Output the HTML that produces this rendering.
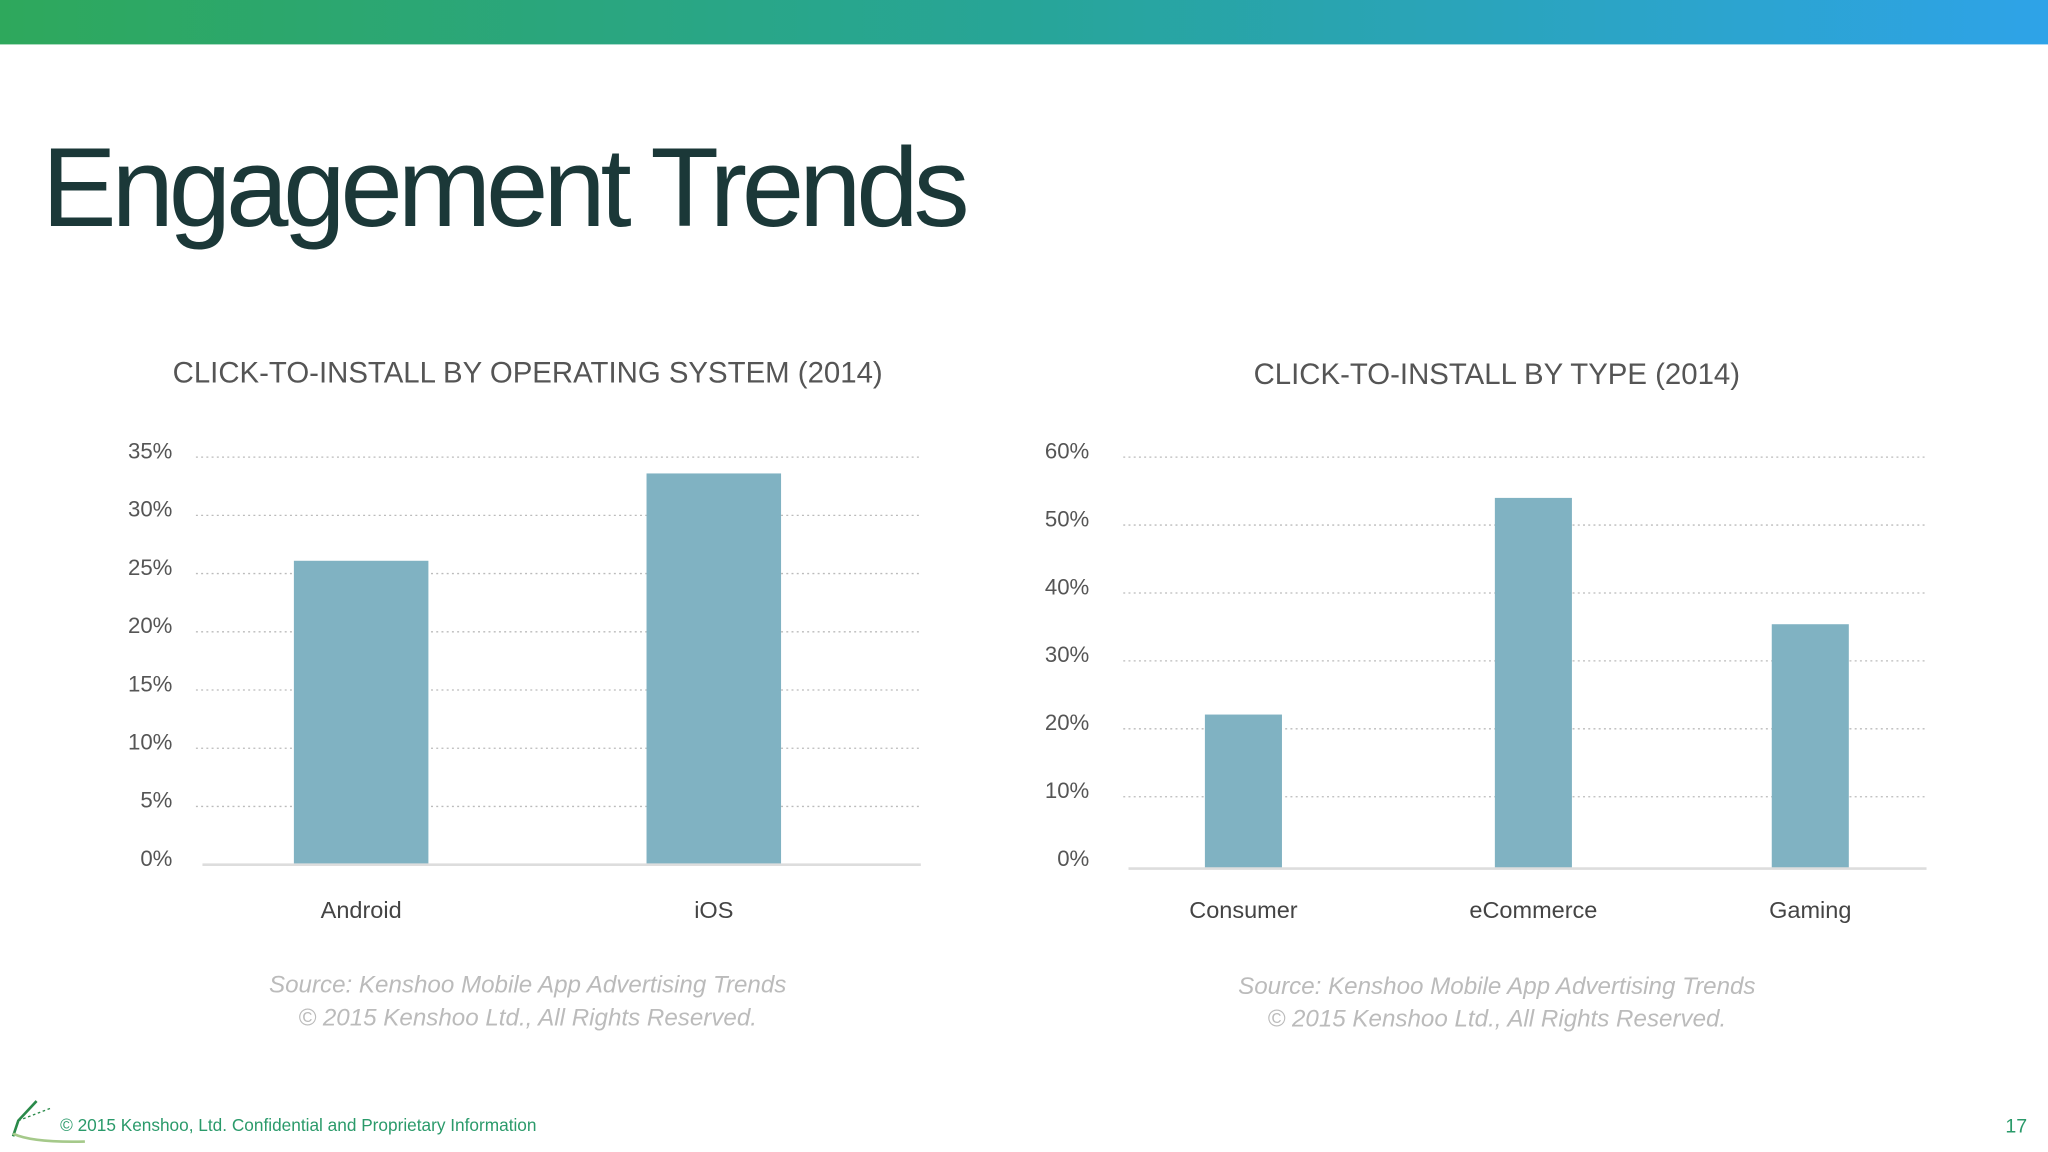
<!DOCTYPE html>
<html><head><meta charset="utf-8"><style>
html,body{margin:0;padding:0;background:#fff;}
svg{display:block;}
text{font-family:"Liberation Sans",sans-serif;}
</style></head><body>
<svg width="2048" height="1152" viewBox="0 0 1568 882" xmlns="http://www.w3.org/2000/svg">
<defs><linearGradient id="tb" x1="0" x2="1"><stop offset="0" stop-color="#2ea85c"/><stop offset="0.5" stop-color="#27a598"/><stop offset="1" stop-color="#2ea3e8"/></linearGradient></defs>
<rect x="0" y="0" width="1568" height="34" fill="url(#tb)"/>
<text x="32" y="173" font-size="86" fill="#1b3838" letter-spacing="-4">Engagement Trends</text>
<text x="404" y="293" font-size="22.5" fill="#555" text-anchor="middle">CLICK-TO-INSTALL BY OPERATING SYSTEM (2014)</text>
<text x="1146" y="294" font-size="22.5" fill="#555" text-anchor="middle">CLICK-TO-INSTALL BY TYPE (2014)</text>
<g id="left"></g>
<g id="right"></g>
<g fill="#bbb" font-style="italic" font-size="18.5" text-anchor="middle">
<text x="404" y="760">Source: Kenshoo Mobile App Advertising Trends</text>
<text x="404" y="785">© 2015 Kenshoo Ltd., All Rights Reserved.</text>
<text x="1146" y="761">Source: Kenshoo Mobile App Advertising Trends</text>
<text x="1146" y="786">© 2015 Kenshoo Ltd., All Rights Reserved.</text>
</g>
<g stroke="#2a8a4a" fill="none">
<path d="M28 843 L14 858 L10 870" stroke-width="2"/>
<path d="M14 858 L40 848" stroke-width="1" stroke-dasharray="2 2"/>
<path d="M10 868 Q25 875 65 874" stroke="#a5c98a" stroke-width="2"/>
</g>
<text x="46" y="866" font-size="13.2" fill="#2a9a6a">©  2015 Kenshoo, Ltd. Confidential and Proprietary Information</text>
<text x="1552" y="867" font-size="15" fill="#2a9a6a" text-anchor="end">17</text>
</svg>
<script>
const leftCats=["Android","iOS"];
const leftVals=[26.1,33.6];
const leftTicks=[0,5,10,15,20,25,30,35];
const rightCats=["Consumer","eCommerce","Gaming"];
const rightVals=[22.1,54,35.4];
const rightTicks=[0,10,20,30,40,50,60];
const NS="http://www.w3.org/2000/svg";
function mk(p,t,a){const e=document.createElementNS(NS,t);for(const k in a)e.setAttribute(k,a[k]);p.appendChild(e);return e;}
function chart(g,cats,vals,ticks,o){
  const max=ticks[ticks.length-1];
  const y=v=>o.y0-(v/max)*(o.y0-o.y1);
  ticks.forEach(t=>{
    if(t>0){const l=mk(g,'line',{x1:o.gx0,x2:o.gx1,y1:y(t),y2:y(t),stroke:'#bbb','stroke-width':1,'stroke-dasharray':'1.5 2.5'});
    
    }
    const tx=mk(g,'text',{x:o.lx,y:y(t)+1,'font-size':17,fill:'#555','text-anchor':'end'});
    tx.textContent=t+'%';
    
    
  });
  cats.forEach((c,i)=>{
    const cx=o.cx[i];
    const r=mk(g,'rect',{x:cx-o.bw/2,y:y(vals[i]),width:o.bw,height:o.y0-y(vals[i])+o.ext,fill:'#80b2c2'});
    
    
    const tx=mk(g,'text',{x:cx,y:o.y0+41,'font-size':18,fill:'#444','text-anchor':'middle'});
    tx.textContent=c;
    
    
  });
  const b=mk(g,'line',{x1:o.bx0,x2:o.gx1,y1:o.y0+o.ext,y2:o.y0+o.ext,stroke:'#ddd','stroke-width':2});
  
  
}
chart(document.getElementById('left'),leftCats,leftVals,leftTicks,{y0:662,y1:350,gx0:150,gx1:705,bx0:155,lx:132,cx:[276.5,546.5],bw:103,ext:0});
chart(document.getElementById('right'),rightCats,rightVals,rightTicks,{y0:662,y1:350,gx0:860,gx1:1475,bx0:864,lx:834,cx:[952,1174,1386],bw:59,ext:3});
</script>
</body></html>
